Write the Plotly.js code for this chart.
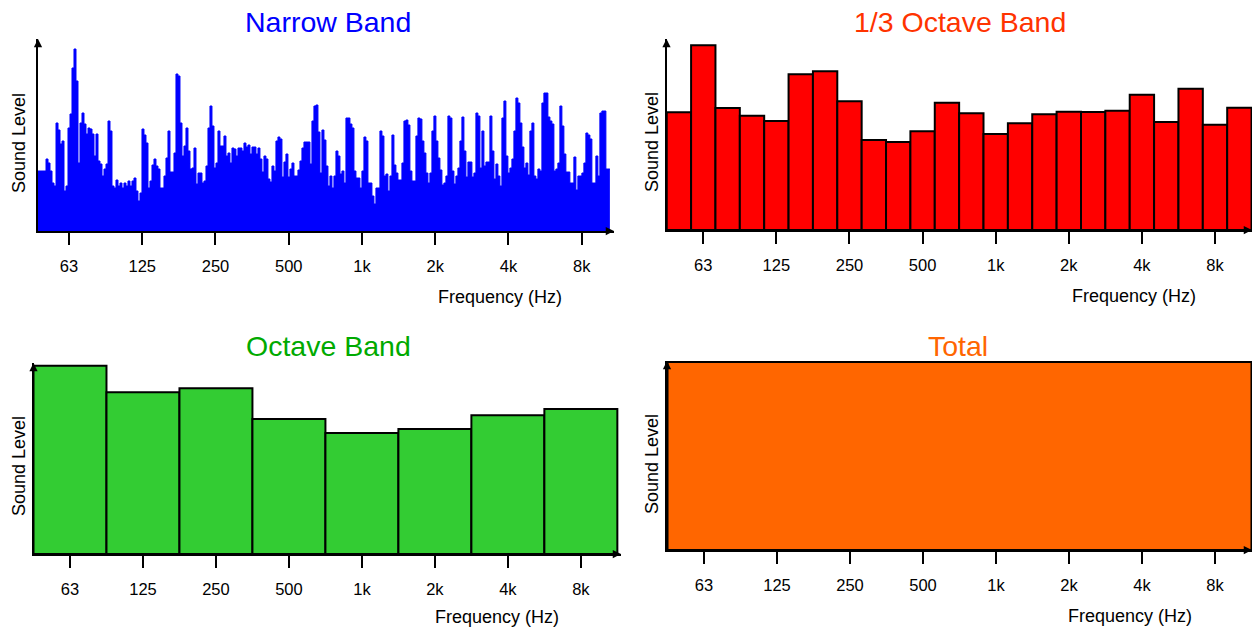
<!DOCTYPE html>
<html>
<head>
<meta charset="utf-8">
<script src="https://cdn.plot.ly/plotly-3.0.1.min.js"></script>
<style>
  html, body { margin: 0; padding: 0; background: #fff; }
  #chart { width: 1252px; height: 631px; }
</style>
</head>
<body>
<div id="chart"></div>
<script>
// ---------------- DATA ----------------
// Octave tick positions (octaves above 63 Hz) and their labels
const octaveTickPos = [0, 1, 2, 3, 4, 5, 6, 7];
const octaveTickLabels = ['63', '125', '250', '500', '1k', '2k', '4k', '8k'];

// Narrow band spectrum: constant-width bins on the log-frequency axis
const narrowStartOct = -0.423;   // first bin edge, octaves re 63 Hz
const narrowStepOct = 0.0273;    // bin width, octaves
const narrowLevels = [
  60,60,60,60,72,68,60,48,45,108,
  101,87,90,40,45,103,117,163,182,150,
  68,108,118,107,97,103,102,97,75,97,
  70,67,55,62,67,110,100,45,43,51,
  45,48,43,48,45,50,45,50,53,
  40,30,38,102,96,88,43,50,66,72,
  65,62,43,43,55,73,100,59,59,78,
  157,155,108,75,85,103,80,62,63,83,
  47,58,58,48,50,65,103,125,105,63,
  68,100,85,85,95,75,78,68,83,
  82,75,83,83,80,88,84,86,77,84,
  84,77,83,72,59,75,72,52,49,65,
  60,90,94,92,54,69,77,54,62,68,
  55,55,61,70,83,89,89,89,67,110,
  125,126,99,58,101,91,65,45,55,
  43,55,80,75,57,60,48,113,113,107,
  103,60,53,53,43,60,94,90,48,48,
  35,27,43,43,100,95,55,57,40,55,
  96,66,58,51,51,68,110,111,106,60,
  50,50,95,113,112,90,78,58,48,
  58,100,115,90,73,61,46,48,55,115,
  113,60,47,55,63,90,114,80,54,69,
  69,54,58,118,115,63,100,65,69,69,
  115,80,52,67,55,45,113,130,75,58,
  63,72,100,133,128,108,84,63,68,
  56,100,108,55,52,62,60,128,138,138,
  114,110,107,60,62,68,125,105,77,59,
  59,48,48,74,41,55,55,58,68,98,
  96,92,48,48,75,55,118,120,120,62,
  62
];

// 1/3 octave bands
const thirdBands = ['50','63','80','100','125','160','200','250','315','400','500','630',
                    '800','1k','1.25k','1.6k','2k','2.5k','3.15k','4k','5k','6.3k','8k','10k'];
const thirdLevels = [117.7,184.7,122,114.3,109,155.7,158.7,128.7,90,88,98.7,127.3,
                     116.7,96,106.7,115.7,118.3,118,119.3,135.3,108,141.3,105.3,122.3];

// Octave bands
const octaveBands = ['63','125','250','500','1k','2k','4k','8k'];
const octaveLevels = [188.3,161.7,165.7,135,121,125,138.7,145];

// Total
const totalLabel = ['Total'];
const totalLevel = [188];

// ---------------- BUILD ----------------
const W = 1252, H = 631;
const dx = (a, b) => [a / W, b / W];
const dy = (top, bottom) => [1 - bottom / H, 1 - top / H];

// narrow band step outline
const nX = [], nY = [];
narrowLevels.forEach((v, i) => { nX.push(narrowStartOct + i * narrowStepOct); nY.push(v); });
nX.push(narrowStartOct + narrowLevels.length * narrowStepOct);
nY.push(narrowLevels[narrowLevels.length - 1]);

const traces = [
  { type: 'scatter', mode: 'lines', x: nX, y: nY, line: { shape: 'hv', color: '#0000FF', width: 1 },
    fill: 'tozeroy', fillcolor: '#0000FF', xaxis: 'x', yaxis: 'y', hoverinfo: 'skip' },
  { type: 'bar', x: thirdBands.map((b, i) => (i - 1) / 3), y: thirdLevels, width: 1 / 3,
    marker: { color: '#FF0000', line: { color: '#000', width: 2 } }, xaxis: 'x2', yaxis: 'y2',
    text: thirdBands, textposition: 'none', hoverinfo: 'text+y' },
  { type: 'bar', x: octaveBands.map((b, i) => i), y: octaveLevels, width: 1,
    marker: { color: '#33CC33', line: { color: '#000', width: 2 } }, xaxis: 'x3', yaxis: 'y3',
    text: octaveBands, textposition: 'none', hoverinfo: 'text+y' },
  { type: 'bar', x: [3.5], y: totalLevel, width: 8,
    marker: { color: '#FF6600', line: { color: '#000', width: 2 } }, xaxis: 'x4', yaxis: 'y4',
    text: totalLabel, textposition: 'none', hoverinfo: 'text+y' }
];

const FONT = 'Liberation Sans, Arial, Helvetica, sans-serif';
const axBase = { showline: true, linecolor: '#000', linewidth: 2, showgrid: false, zeroline: false, fixedrange: true };
const xBase = Object.assign({}, axBase, {
  ticks: 'outside', ticklen: 12, tickwidth: 2, tickcolor: '#000',
  tickvals: octaveTickPos, ticktext: octaveTickLabels, ticklabelstandoff: 7,
  tickfont: { family: FONT, size: 16.5, color: '#000' }
});
const yBase = Object.assign({}, axBase, { showticklabels: false, ticks: '' });

function arrowsFor(xa, ya) {
  return [
    { xref: xa + ' domain', yref: ya + ' domain', x: 0, y: 1, ax: 0, ay: 9, axref: 'pixel', ayref: 'pixel',
      text: '', showarrow: true, arrowhead: 2, arrowsize: 1.1, arrowwidth: 1.5, arrowcolor: '#000' },
    { xref: xa + ' domain', yref: ya + ' domain', x: 1, y: 0, ax: -9, ay: 0, axref: 'pixel', ayref: 'pixel',
      text: '', showarrow: true, arrowhead: 2, arrowsize: 1.1, arrowwidth: 1.5, arrowcolor: '#000' }
  ];
}

function label(text, px, py, opts) {
  return Object.assign({ xref: 'paper', yref: 'paper', x: px / W, y: 1 - py / H, xanchor: 'center', yanchor: 'middle',
    text: text, showarrow: false, font: { family: FONT, size: 18, color: '#000' } }, opts || {});
}

const annotations = [
  label('Narrow Band', 327.5, 22, { font: { family: FONT, size: 28.5, color: '#0000FF' } }),
  label('1/3 Octave Band', 960, 22, { font: { family: FONT, size: 28.5, color: '#FF3300' } }),
  label('Octave Band', 328, 346, { font: { family: FONT, size: 28.5, color: '#00AA00' } }),
  label('Total', 958, 346, { font: { family: FONT, size: 28.5, color: '#FF6600' } }),
  label('Frequency (Hz)', 500, 297),
  label('Frequency (Hz)', 1134, 296),
  label('Frequency (Hz)', 497, 617),
  label('Frequency (Hz)', 1130, 616),
  label('Sound Level', 19, 143, { textangle: -90 }),
  label('Sound Level', 652, 142, { textangle: -90 }),
  label('Sound Level', 19, 466, { textangle: -90 }),
  label('Sound Level', 652, 464, { textangle: -90 })
].concat(arrowsFor('x', 'y'), arrowsFor('x2', 'y2'), arrowsFor('x3', 'y3'), arrowsFor('x4', 'y4'));

const layout = {
  width: W, height: H,
  margin: { l: 0, r: 0, t: 0, b: 0 },
  paper_bgcolor: '#fff', plot_bgcolor: 'rgba(0,0,0,0)',
  showlegend: false, bargap: 0,
  font: { family: FONT, color: '#000' },
  xaxis:  Object.assign({}, xBase, { domain: dx(38, 614), range: [-0.423, 7.441], anchor: 'y' }),
  yaxis:  Object.assign({}, yBase, { domain: dy(39, 231), range: [0, 192], anchor: 'x' }),
  xaxis2: Object.assign({}, xBase, { domain: dx(666.5, 1252), range: [-0.503, 7.506], anchor: 'y2' }),
  yaxis2: Object.assign({}, yBase, { domain: dy(39, 230), range: [0, 191], anchor: 'x2' }),
  xaxis3: Object.assign({}, xBase, { domain: dx(33.5, 621), range: [-0.5, 7.55], anchor: 'y3' }),
  yaxis3: Object.assign({}, yBase, { domain: dy(363, 554), range: [0, 191], anchor: 'x3' }),
  xaxis4: Object.assign({}, xBase, { domain: dx(667, 1252), range: [-0.507, 7.507], anchor: 'y4' }),
  yaxis4: Object.assign({}, yBase, { domain: dy(361, 550), range: [0, 189], anchor: 'x4' }),
  annotations: annotations
};

Plotly.newPlot('chart', traces, layout, { displayModeBar: false, staticPlot: true });
</script>
</body>
</html>
